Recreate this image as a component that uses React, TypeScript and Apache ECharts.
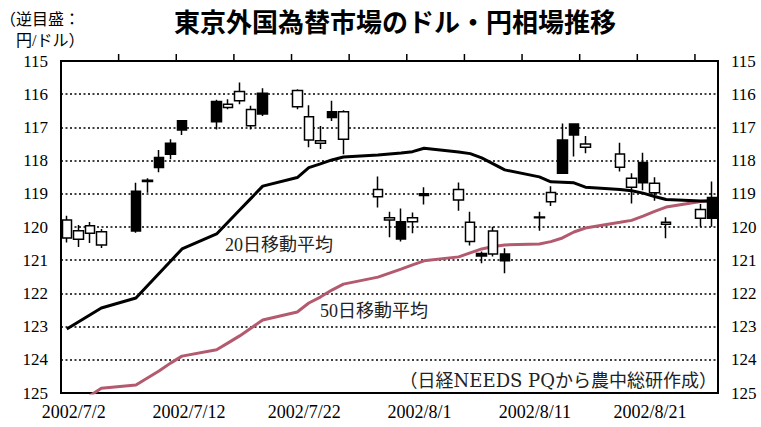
import React, { useEffect, useRef } from "react";
import * as echarts from "echarts";

// calendar days shown on the x axis (one slot per day)
const calendarDays = [
  "2002/7/2", "2002/7/3", "2002/7/4", "2002/7/5", "2002/7/6", "2002/7/7", "2002/7/8", "2002/7/9", "2002/7/10",
  "2002/7/11", "2002/7/12", "2002/7/13", "2002/7/14", "2002/7/15", "2002/7/16", "2002/7/17", "2002/7/18",
  "2002/7/19", "2002/7/20", "2002/7/21", "2002/7/22", "2002/7/23", "2002/7/24", "2002/7/25", "2002/7/26",
  "2002/7/27", "2002/7/28", "2002/7/29", "2002/7/30", "2002/7/31", "2002/8/1", "2002/8/2", "2002/8/3",
  "2002/8/4", "2002/8/5", "2002/8/6", "2002/8/7", "2002/8/8", "2002/8/9", "2002/8/10", "2002/8/11",
  "2002/8/12", "2002/8/13", "2002/8/14", "2002/8/15", "2002/8/16", "2002/8/17", "2002/8/18", "2002/8/19",
  "2002/8/20", "2002/8/21", "2002/8/22", "2002/8/23", "2002/8/24", "2002/8/25", "2002/8/26", "2002/8/27",
];

// top-edge tick marks: at the left boundary of every 5th calendar day
const topTickDays = [
  "2002/7/7", "2002/7/12", "2002/7/17", "2002/7/22", "2002/7/27", "2002/8/1",
  "2002/8/6", "2002/8/11", "2002/8/16", "2002/8/21", "2002/8/26",
];

// trading days
const tradingDays = [
  "2002/7/2", "2002/7/3", "2002/7/4", "2002/7/5", "2002/7/8", "2002/7/9", "2002/7/10", "2002/7/11", "2002/7/12",
  "2002/7/15", "2002/7/16", "2002/7/17", "2002/7/18", "2002/7/19", "2002/7/22", "2002/7/23", "2002/7/24",
  "2002/7/25", "2002/7/26", "2002/7/29", "2002/7/30", "2002/7/31", "2002/8/1", "2002/8/2", "2002/8/5",
  "2002/8/6", "2002/8/7", "2002/8/8", "2002/8/9", "2002/8/12", "2002/8/13", "2002/8/14", "2002/8/15",
  "2002/8/16", "2002/8/19", "2002/8/20", "2002/8/21", "2002/8/22", "2002/8/23", "2002/8/26", "2002/8/27",
];

const opens = [
  119.79, 120.11, 119.96, 120.14, 120.12, 118.63, 118.21, 117.81, 117.08,
  116.83, 116.30, 115.92, 116.46, 116.60, 115.89, 116.68, 117.40,
  116.70, 116.53, 118.87, 119.72, 120.36, 119.72, 119.05, 118.87,
  119.86, 120.87, 120.12, 121.02, 119.72, 118.96, 118.38, 117.23,
  117.50, 117.80, 118.53, 118.67, 118.68, 119.86, 119.47, 119.74,
];
const closes = [
  120.33, 120.37, 120.19, 120.54, 118.92, 118.59, 117.91, 117.48, 116.80,
  116.22, 116.40, 116.20, 116.95, 115.97, 116.38, 117.38, 117.48,
  116.53, 117.36, 119.09, 119.79, 119.84, 119.84, 119.00, 119.19,
  120.44, 120.80, 120.81, 120.81, 119.70, 119.24, 117.38, 116.90,
  117.60, 118.20, 118.80, 118.06, 118.97, 119.92, 119.74, 119.11,
];
const lows = [
  119.66, 119.94, 119.85, 120.06, 118.67, 118.53, 117.68, 117.36, 116.78,
  116.17, 116.15, 115.65, 116.35, 115.82, 115.85, 116.33, 116.96,
  116.20, 116.48, 118.48, 119.54, 119.44, 119.56, 118.80, 118.66,
  119.54, 120.74, 119.99, 120.64, 119.54, 118.77, 116.88, 116.90,
  117.26, 117.46, 118.38, 117.76, 118.50, 119.71, 119.31, 118.63,
];
const highs = [
  120.47, 120.60, 120.48, 120.63, 120.17, 118.97, 118.35, 117.96, 117.23,
  117.06, 116.45, 116.30, 117.06, 116.66, 116.45, 117.60, 117.65,
  116.81, 117.81, 119.41, 120.31, 120.44, 120.19, 119.32, 119.51,
  120.56, 121.09, 120.89, 121.39, 120.11, 119.37, 118.38, 117.88,
  117.78, 118.33, 119.29, 118.89, 119.21, 120.34, 119.99, 119.99,
];

const ma20 = [
  123.07, 122.86, 122.65, 122.44, 122.14, 121.77, 121.40, 121.03, 120.66,
  120.21, 119.85, 119.49, 119.13, 118.77, 118.51, 118.21, 118.10,
  117.98, 117.89, 117.83, 117.80, 117.77, 117.73, 117.63, 117.74,
  117.79, 117.92, 118.10, 118.28, 118.49, 118.64, 118.65, 118.67,
  118.80, 118.87, 118.91, 118.98, 119.08, 119.17, 119.22, 119.22,
];
const ma50 = [
  null, null, 125.08, 124.86, 124.76, 124.55, 124.34, 124.10, 123.89,
  123.70, 123.49, 123.28, 123.04, 122.80, 122.56, 122.29, 122.11,
  121.90, 121.72, 121.51, 121.39, 121.27, 121.14, 121.02, 120.90,
  120.78, 120.66, 120.59, 120.54, 120.51, 120.44, 120.33, 120.15,
  120.03, 119.86, 119.80, 119.67, 119.53, 119.40, 119.23, 119.20,
];

const yMin = 115;
const yMax = 125;

const titleText = "東京外国為替市場のドル・円相場推移";
const unitLine1 = "（逆目盛：";
const unitLine2 = "円/ドル）";
const ma20Label = "20日移動平均";
const ma50Label = "50日移動平均";
const sourceText = "（日経NEEDS PQから農中総研作成）";

const SERIF = "'Liberation Serif', 'Noto Sans CJK JP', serif";
const MIXED = "'Liberation Serif', 'Noto Sans CJK JP', sans-serif";
const GOTHIC = "'Noto Sans CJK JP', sans-serif";

export default function App() {
  const ref = useRef<HTMLDivElement>(null);

  useEffect(() => {
    if (!ref.current) return;
    const chart = echarts.init(ref.current, undefined, { renderer: "svg" });

    const idx = (d: string) => calendarDays.indexOf(d);
    const candleData = tradingDays.map((d, i) => [idx(d), opens[i], closes[i], lows[i], highs[i]]);
    const ma20Data = tradingDays.map((d, i) => [idx(d), ma20[i]]);
    const ma50Data = tradingDays
      .map((d, i) => [idx(d), ma50[i]])
      .filter((p) => p[1] !== null);

    const yAxisBase = {
      type: "value",
      min: yMin,
      max: yMax,
      interval: 1,
      inverse: true,
      axisLine: { show: true, lineStyle: { color: "#000", width: 2 } },
      axisTick: { show: false },
      axisLabel: { color: "#000", fontFamily: SERIF, fontSize: 17, margin: 13 },
    };

    const textGraphics = [
      {
        type: "text",
        x: 395,
        y: 20,
        style: {
          text: titleText,
          fill: "#000",
          fontFamily: GOTHIC,
          fontSize: 26,
          fontWeight: "bold",
          align: "center",
          verticalAlign: "middle",
        },
      },
      {
        type: "text",
        x: 0,
        y: 19,
        style: { text: unitLine1, fill: "#000", fontFamily: MIXED, fontSize: 16, align: "left", verticalAlign: "middle" },
      },
      {
        type: "text",
        x: 16,
        y: 40,
        style: { text: unitLine2, fill: "#000", fontFamily: MIXED, fontSize: 16, align: "left", verticalAlign: "middle" },
      },
      {
        type: "text",
        x: 225,
        y: 245,
        z: 10,
        style: { text: ma20Label, fill: "#222", fontFamily: MIXED, fontSize: 18, align: "left", verticalAlign: "middle" },
      },
      {
        type: "text",
        x: 320,
        y: 311,
        z: 10,
        style: { text: ma50Label, fill: "#222", fontFamily: MIXED, fontSize: 18, align: "left", verticalAlign: "middle" },
      },
      {
        type: "text",
        x: 717,
        y: 380,
        z: 10,
        style: { text: sourceText, fill: "#222", fontFamily: "'DejaVu Serif', 'Noto Sans CJK JP', serif", fontSize: 18, align: "right", verticalAlign: "middle" },
      },
    ];

    chart.setOption({
      animation: false,
      backgroundColor: "#fff",
      grid: {
        left: 61,
        right: 43,
        top: 61,
        bottom: 34,
        containLabel: false,
        show: true,
        borderColor: "#000",
        borderWidth: 2,
        backgroundColor: "transparent",
      },
      xAxis: [
        {
          type: "category",
          data: calendarDays,
          boundaryGap: true,
          position: "bottom",
          axisLine: { show: true, onZero: false, lineStyle: { color: "#000", width: 2 } },
          axisTick: { show: false },
          axisLabel: {
            interval: 9,
            color: "#000",
            fontFamily: SERIF,
            fontSize: 18,
            margin: 10,
            padding: [0, 0, 0, 14],
          },
          splitLine: { show: false },
        },
      ],
      yAxis: [
        {
          ...yAxisBase,
          position: "left",
          splitLine: { show: true, lineStyle: { color: "#000", width: 1.6, type: [2, 2.5] } },
        },
        {
          ...yAxisBase,
          position: "right",
          splitLine: { show: false },
        },
      ],
      series: [
        {
          name: "50日移動平均",
          type: "line",
          data: ma50Data,
          xAxisIndex: 0,
          yAxisIndex: 0,
          showSymbol: false,
          symbol: "none",
          clip: true,
          lineStyle: { color: "#b35a6e", width: 3 },
          z: 2,
        },
        {
          name: "20日移動平均",
          type: "line",
          data: ma20Data,
          xAxisIndex: 0,
          yAxisIndex: 0,
          showSymbol: false,
          symbol: "none",
          clip: true,
          lineStyle: { color: "#000", width: 3 },
          z: 3,
        },
        {
          name: "ドル・円",
          type: "candlestick",
          data: candleData,
          encode: { x: 0, y: [1, 2, 3, 4] },
          xAxisIndex: 0,
          yAxisIndex: 0,
          barWidth: 10,
          itemStyle: {
            color: "#fff",
            color0: "#000",
            borderColor: "#000",
            borderColor0: "#000",
            borderWidth: 1.5,
          },
          z: 4,
        },
      ],
      graphic: textGraphics,
    });

    // top-edge tick marks placed through the axis scale (boundary before each listed day)
    try {
      const topY = chart.convertToPixel({ yAxisIndex: 0 }, yMin) as number;
      const tickLines = topTickDays.map((d) => {
        const i = idx(d);
        const a = chart.convertToPixel({ xAxisIndex: 0 }, i - 1) as number;
        const b = chart.convertToPixel({ xAxisIndex: 0 }, i) as number;
        const x = (a + b) / 2;
        return {
          type: "line",
          silent: true,
          z: 20,
          shape: { x1: x, y1: topY, x2: x, y2: topY - 7 },
          style: { stroke: "#000", lineWidth: 1.5 },
        };
      });
      chart.setOption({ graphic: [...textGraphics, ...tickLines] });
    } catch (e) {
      // ignore
    }

    return () => {
      chart.dispose();
    };
  }, []);

  return (
    <div
      ref={ref}
      style={{ position: "fixed", left: 0, top: 0, width: 761, height: 427, background: "#fff" }}
    />
  );
}
